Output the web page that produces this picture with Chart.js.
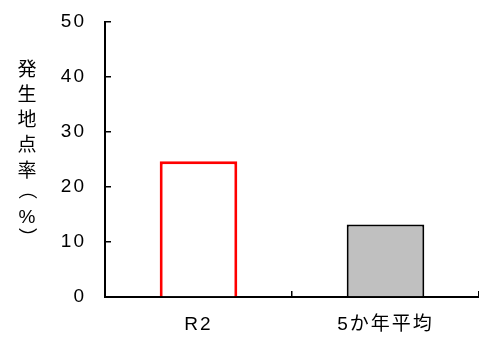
<!DOCTYPE html>
<html><head><meta charset="utf-8">
<script src="https://cdn.jsdelivr.net/npm/chart.js@4"></script>
<style>html,body{margin:0;padding:0;background:#fff}#wrap{width:479px;height:341px}</style>
</head><body><div id="wrap"><canvas id="c" width="479" height="341"></canvas></div>
<script>
const categories = ['R2', '5か年平均'];
const values = [24.7, 13.2];
const barFills = ['#ffffff', '#c0c0c0'];
const barBorders = ['#ff0000', '#000000'];
const barBorderWidths = [3, 2];
const yMin = 0, yMax = 50, yStep = 10;
const yTitleChars = ['発', '生', '地', '点', '率', '（', '%', '）'];

const spacingPlugin = {
  id: 'spacing',
  beforeUpdate(chart) { chart.ctx.letterSpacing = '2px'; },
  beforeDraw(chart) { chart.ctx.letterSpacing = '2px'; }
};
const vTitlePlugin = {
  id: 'vtitle',
  afterDraw(chart) {
    const ctx = chart.ctx;
    ctx.save();
    ctx.letterSpacing = '0px';
    ctx.fillStyle = '#000';
    ctx.textAlign = 'center';
    ctx.textBaseline = 'middle';
    const ys = [69, 94, 119, 144, 170, 190, 218, 237];
    yTitleChars.forEach((ch, i) => {
      if (ch === '（' || ch === '）') {
        ctx.save();
        ctx.translate(27, ys[i]);
        ctx.rotate(Math.PI / 2);
        ctx.font = '19px "Noto Sans CJK JP"';
        ctx.fillText(ch, 0, 0);
        ctx.restore();
      } else {
        ctx.font = ch === '%' ? '19px "Liberation Sans"' : '19px "Noto Sans CJK JP"';
        ctx.fillText(ch, 27, ys[i]);
      }
    });
    ctx.restore();
  }
};

new Chart(document.getElementById('c'), {
  type: 'bar',
  data: {
    labels: categories,
    datasets: [{
      data: values,
      backgroundColor: barFills,
      borderColor: barBorders,
      borderWidth: barBorderWidths,
      barPercentage: 0.415,
      categoryPercentage: 1
    }]
  },
  plugins: [spacingPlugin, vTitlePlugin],
  options: {
    responsive: false,
    animation: false,
    devicePixelRatio: 1,
    layout: { padding: { top: 22, right: -2, left: 0, bottom: 0 } },
    plugins: { legend: { display: false }, tooltip: { enabled: false } },
    scales: {
      x: {
        grid: { offset: true, drawOnChartArea: false, drawTicks: true, tickLength: -6, color: '#000', lineWidth: 1.5 },
        border: { color: '#000', width: 2 },
        ticks: { color: '#000', padding: 22, font: { size: 19, family: '"Liberation Sans", "Noto Sans CJK JP"' }, maxRotation: 0, autoSkip: false },
        afterFit: s => { s.height = 44; s.paddingLeft = 0; s.paddingRight = 0; }
      },
      y: {
        min: yMin, max: yMax,
        grid: { drawOnChartArea: false, drawTicks: true, tickLength: -6, color: '#000', lineWidth: 1.5 },
        border: { color: '#000', width: 2 },
        ticks: { stepSize: yStep, color: '#000', padding: 25, font: { size: 19, family: '"Liberation Sans"' } },
        afterFit: s => { s.width = 105; s.paddingTop = 0; s.paddingBottom = 0; }
      }
    }
  }
});
</script></body></html>
